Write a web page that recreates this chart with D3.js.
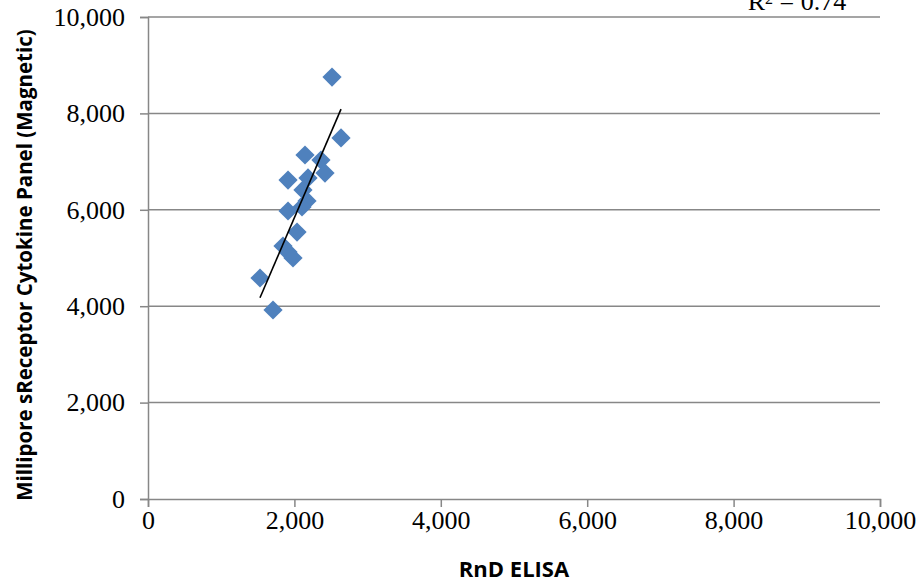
<!DOCTYPE html>
<html>
<head>
<meta charset="utf-8">
<script src="https://cdn.jsdelivr.net/npm/d3@7"></script>
<style>
  html, body { margin: 0; padding: 0; background: #fff; }
  svg { display: block; }
</style>
</head>
<body>
<svg id="chart" width="921" height="584"></svg>
<script>
// ---- Data ----
const rndElisa = [2514, 2637, 2145, 2363, 2418, 2186, 1913, 2117, 2172, 1913, 2104, 2036, 1844, 1913, 1981, 1530, 1708];
const millipore = [8755, 7490, 7137, 7033, 6763, 6660, 6618, 6411, 6183, 5975, 6058, 5539, 5249, 5124, 5000, 4585, 3921];
const xTicks = [0, 2000, 4000, 6000, 8000, 10000];
const yTicks = [0, 2000, 4000, 6000, 8000, 10000];
const xTitle = "RnD ELISA";
const yTitle = "Millipore sReceptor Cytokine Panel (Magnetic)";
const r2Label = "0.74";

// ---- Layout ----
const svg = d3.select("#chart");
const L = 148, R = 880, T = 17, B = 499;
const x = d3.scaleLinear().domain([0, 10000]).range([L, R]);
const y = d3.scaleLinear().domain([0, 10000]).range([B, T]);
const fmt = d3.format(",");
const gridColor = "#878787";
const serif = "'Liberation Serif', 'Times New Roman', serif";
const sans = "'Open Sans', 'Liberation Sans', sans-serif";

// gridlines
svg.append("g").selectAll("line").data(yTicks.filter(d => d > 0)).join("line")
  .attr("x1", L).attr("x2", R).attr("y1", d => y(d)).attr("y2", d => y(d))
  .attr("stroke", gridColor).attr("stroke-width", 1.5);

// y axis
const yAxis = svg.append("g").attr("transform", `translate(${L},0)`)
  .call(d3.axisLeft(y).tickValues(yTicks).tickFormat(fmt).tickSize(8).tickPadding(15));
yAxis.select(".domain").attr("stroke", gridColor).attr("stroke-width", 1.5);
yAxis.selectAll(".tick line").attr("stroke", gridColor).attr("stroke-width", 1.5);
yAxis.selectAll(".tick text").attr("font-family", serif).attr("font-size", 26).attr("fill", "#000").attr("dy", "0.32em");

// x axis
const xAxis = svg.append("g").attr("transform", `translate(0,${B})`)
  .call(d3.axisBottom(x).tickValues(xTicks).tickFormat(fmt).tickSize(8).tickPadding(4));
xAxis.select(".domain").attr("stroke", gridColor).attr("stroke-width", 1.5);
xAxis.selectAll(".tick line").attr("stroke", gridColor).attr("stroke-width", 1.5);
xAxis.selectAll(".tick text").attr("font-family", serif).attr("font-size", 26).attr("fill", "#000");

// points
const pts = rndElisa.map((v, i) => ({ x: v, y: millipore[i] }));
const sym = d3.symbol().type(d3.symbolSquare).size(185);
svg.append("g").selectAll("path").data(pts).join("path")
  .attr("d", sym)
  .attr("transform", d => `translate(${x(d.x)},${y(d.y)}) rotate(45)`)
  .attr("fill", "#4F81BD");

// linear trendline (least squares)
const mx = d3.mean(pts, d => d.x), my = d3.mean(pts, d => d.y);
const slope = d3.sum(pts, d => (d.x - mx) * (d.y - my)) / d3.sum(pts, d => (d.x - mx) ** 2);
const icpt = my - slope * mx;
const [x0, x1] = d3.extent(pts, d => d.x);
svg.append("line")
  .attr("x1", x(x0)).attr("y1", y(icpt + slope * x0))
  .attr("x2", x(x1)).attr("y2", y(icpt + slope * x1))
  .attr("stroke", "#000").attr("stroke-width", 1.6);

// R² label
const rt = svg.append("text").attr("x", 797).attr("y", 10).attr("text-anchor", "middle")
  .attr("font-family", serif).attr("font-size", 26).attr("fill", "#000");
rt.append("tspan").text("R");
rt.append("tspan").attr("font-size", 16).attr("dy", -6).text("2");
rt.append("tspan").attr("dy", 6).text(" = " + r2Label);

// axis titles
svg.append("text").attr("x", (L + R) / 2).attr("y", 577).attr("text-anchor", "middle")
  .attr("font-family", sans).attr("font-weight", "bold").attr("font-size", 22).attr("fill", "#000")
  .text(xTitle);
svg.append("text").attr("transform", `translate(32,265) rotate(-90)`).attr("text-anchor", "middle")
  .attr("font-family", sans).attr("font-weight", "bold").attr("font-size", 20.5).attr("fill", "#000")
  .text(yTitle);
</script>
</body>
</html>
